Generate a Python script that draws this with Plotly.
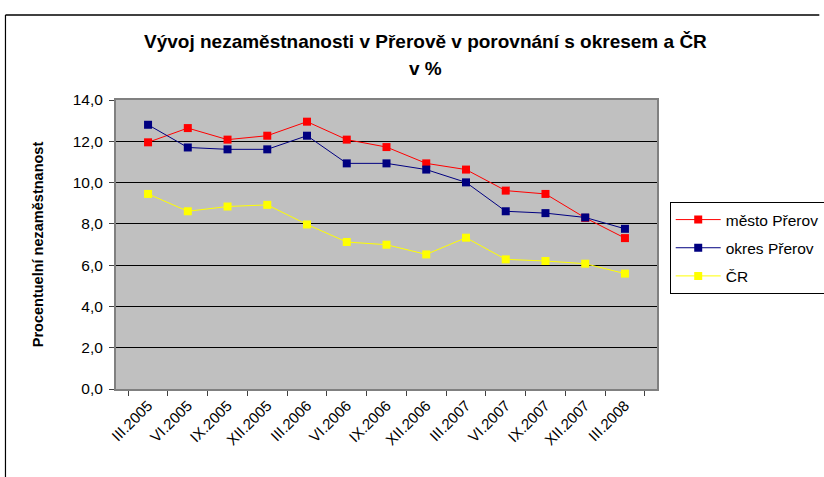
import plotly.graph_objects as go

categories = ["III.2005", "VI.2005", "IX.2005", "XII.2005", "III.2006", "VI.2006",
              "IX.2006", "XII.2006", "III.2007", "VI.2007", "IX.2007", "XII.2007", "III.2008"]
mesto = [11.95, 12.64, 12.08, 12.27, 12.95, 12.08, 11.72, 10.93, 10.63, 9.61, 9.45, 8.29, 7.31]
okres = [12.80, 11.70, 11.61, 11.61, 12.27, 10.93, 10.93, 10.63, 10.01, 8.61, 8.52, 8.31, 7.76]
cr = [9.45, 8.61, 8.84, 8.92, 7.97, 7.12, 6.99, 6.52, 7.33, 6.28, 6.20, 6.07, 5.59]
series_names = ["město Přerov", "okres Přerov", "ČR"]
colors = ["#FF0000", "#000080", "#FFFF00"]
y_ticks = [0, 2, 4, 6, 8, 10, 12, 14]
title_lines = ["Vývoj nezaměstnanosti v Přerově v porovnání s okresem a ČR", "v %"]

fig = go.Figure()
for name, vals, col in zip(series_names, [mesto, okres, cr], colors):
    fig.add_trace(go.Scatter(
        x=categories, y=vals, name=name, mode="lines+markers",
        legendgroup=name,
        line=dict(color=col, width=1),
        marker=dict(symbol="square", size=8, color=col),
    ))

fig.update_layout(
    width=824, height=477,
    margin=dict(l=116, r=167, t=100, b=88, autoexpand=False),
    paper_bgcolor="white",
    plot_bgcolor="#C0C0C0",
    separators=", ",
    font=dict(family="Liberation Sans, Arial, sans-serif", size=15, color="black"),
    legend=dict(
        x=1.0235, xanchor="left", y=0.647, yanchor="top",
        bordercolor="black", borderwidth=1, bgcolor="white",
        font=dict(size=15.5), tracegroupgap=5, itemwidth=45,
    ),
    showlegend=True,
    shapes=[
        dict(type="line", xref="paper", yref="paper",
             x0=-0.2043, x1=1.30, y0=1.2941, y1=1.2941,
             line=dict(color="black", width=1.5)),
        dict(type="line", xref="paper", yref="paper",
             x0=-0.2043, x1=-0.2043, y0=-0.40, y1=1.2941,
             line=dict(color="black", width=1.2)),
    ],
    annotations=[
        dict(text="<b>%s</b>" % title_lines[0], xref="paper", yref="paper",
             x=0.573, y=1.2007, xanchor="center", yanchor="middle",
             showarrow=False, font=dict(size=19)),
        dict(text="<b>%s</b>" % title_lines[1], xref="paper", yref="paper",
             x=0.573, y=1.1107, xanchor="center", yanchor="middle",
             showarrow=False, font=dict(size=19)),
    ],
)

fig.update_xaxes(
    type="category",
    tickangle=-45,
    showline=True, linecolor="#808080", linewidth=2, mirror=True,
    ticks="outside", ticklen=5, tickcolor="#404040",
    tickson="boundaries",
    showgrid=False,
    tickfont=dict(size=15),
)
fig.update_yaxes(
    range=[0, 14],
    tickvals=y_ticks,
    tickformat=".1f",
    showline=True, linecolor="#808080", linewidth=2, mirror=True,
    ticks="outside", ticklen=5, tickcolor="#404040",
    ticklabelstandoff=3,
    showgrid=True, gridcolor="black", gridwidth=1,
    zeroline=False,
    title=dict(text="<b>Procentuelní nezaměstnanost</b>", font=dict(size=14.5), standoff=26),
    tickfont=dict(size=15.5),
)

fig.write_html("out.html", config={"displayModeBar": False},
               post_script="document.body.style.margin='0';")
